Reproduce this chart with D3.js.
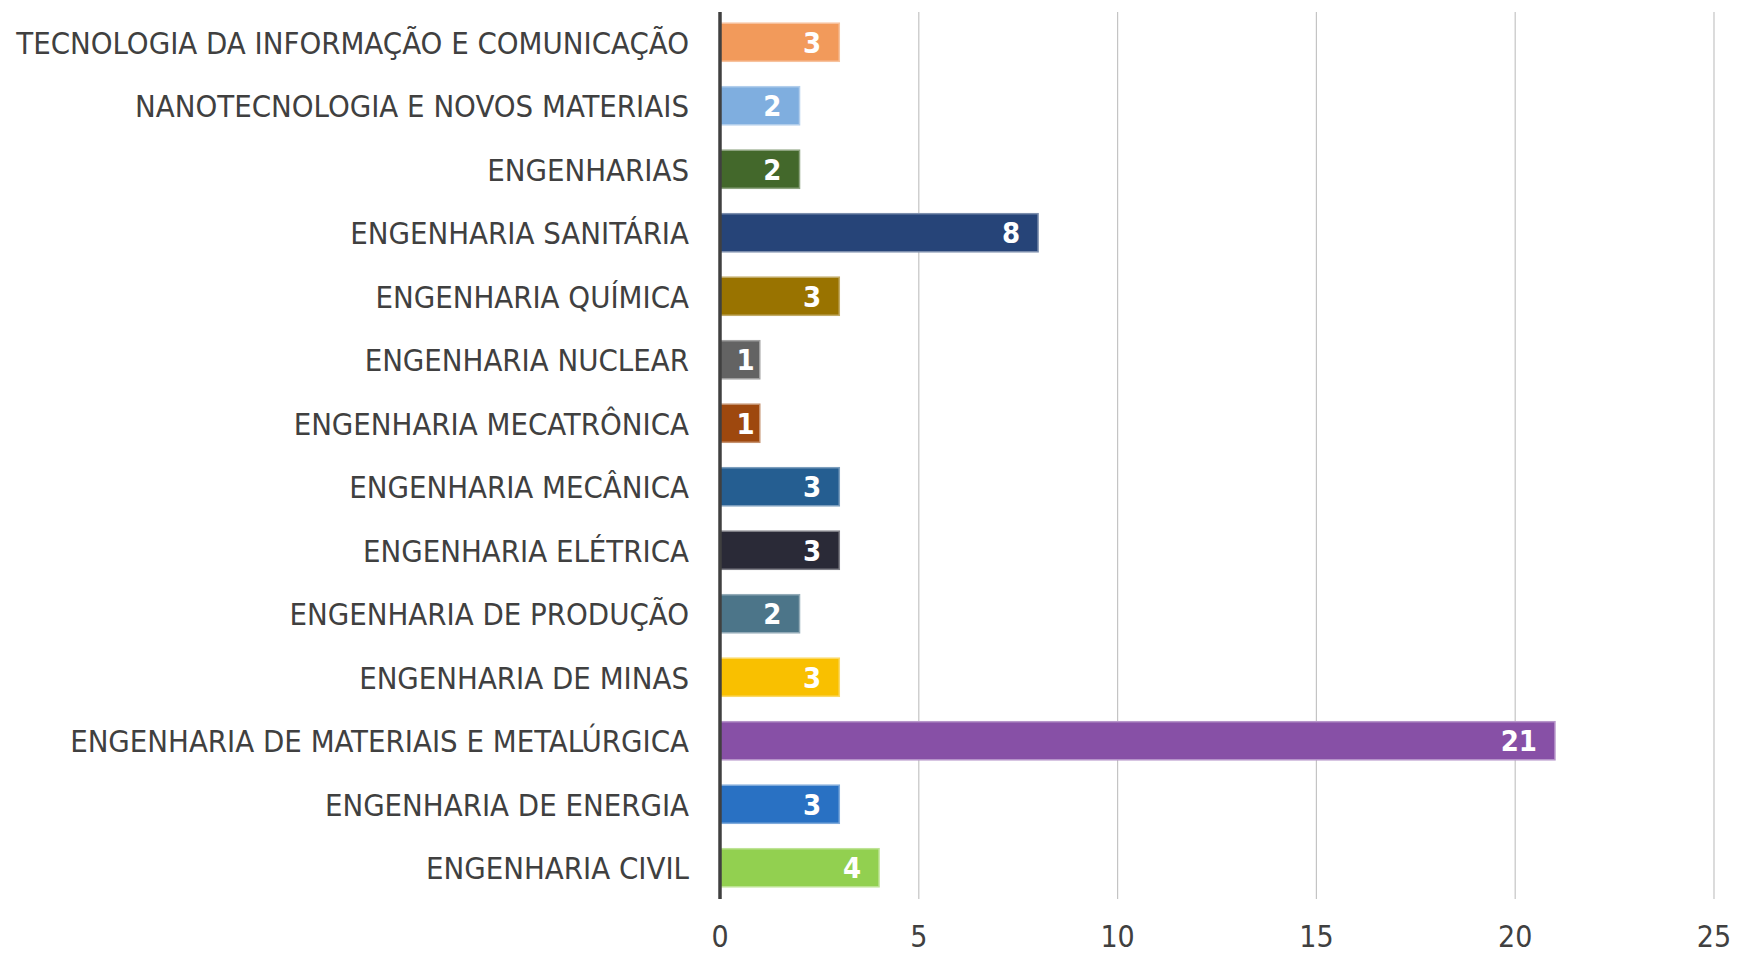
<!DOCTYPE html>
<html>
<head>
<meta charset="utf-8">
<script src="https://cdn.jsdelivr.net/npm/d3@7"></script>
<style>
  body { margin: 0; background: #fff; }
  svg { display: block; }
</style>
</head>
<body>
<script>
var w = 1738;
var h = 955;

var categories = [
    "TECNOLOGIA DA INFORMAÇÃO E COMUNICAÇÃO",
    "NANOTECNOLOGIA E NOVOS MATERIAIS",
    "ENGENHARIAS",
    "ENGENHARIA SANITÁRIA",
    "ENGENHARIA QUÍMICA",
    "ENGENHARIA NUCLEAR",
    "ENGENHARIA MECATRÔNICA",
    "ENGENHARIA MECÂNICA",
    "ENGENHARIA ELÉTRICA",
    "ENGENHARIA DE PRODUÇÃO",
    "ENGENHARIA DE MINAS",
    "ENGENHARIA DE MATERIAIS E METALÚRGICA",
    "ENGENHARIA DE ENERGIA",
    "ENGENHARIA CIVIL"
];
var values = [3, 2, 2, 8, 3, 1, 1, 3, 3, 2, 3, 21, 3, 4];
var colors = ["#F29A5B", "#7FAEDF", "#43682B", "#264478", "#997300", "#636363", "#9E480E",
              "#255E91", "#2A2A37", "#4C7589", "#F9C000", "#8750A6", "#2971C3", "#92D050"];
var xTicks = [0, 5, 10, 15, 20, 25];

var font = "'DejaVu Sans Condensed', 'DejaVu Sans', sans-serif";

var svg = d3.select("body")
            .append("svg")
                .attr("width", w)
                .attr("height", h);

var x = d3.scaleLinear().domain([0, 25]).range([720, 1714]);
var y = d3.scaleBand().domain(categories).range([10.5, 899.5])
            .paddingInner(0.4).paddingOuter(0.2);

// gridlines
svg.selectAll("line.grid")
    .data(xTicks.slice(1))
    .enter()
    .append("line")
        .attr("class", "grid")
        .attr("x1", function(d) {return x(d);})
        .attr("x2", function(d) {return x(d);})
        .attr("y1", 12)
        .attr("y2", 899)
        .attr("stroke", "#c4c4c4")
        .attr("stroke-width", 1.2);

// bars
svg.selectAll("rect.bar")
    .data(values)
    .enter()
    .append("rect")
        .attr("class", "bar")
        .attr("x", x(0))
        .attr("y", function(d, i) {return y(categories[i]);})
        .attr("width", function(d) {return x(d) - x(0);})
        .attr("height", y.bandwidth())
        .attr("fill", function(d, i) {return colors[i];})
        .attr("stroke", function(d, i) {return d3.interpolateRgb(colors[i], "#ffffff")(0.4);})
        .attr("stroke-width", 1.5);

// value labels (inside end; short bars get a smaller margin)
svg.selectAll("text.val")
    .data(values)
    .enter()
    .append("text")
    .text(function(d) {return d;})
        .attr("class", "val")
        .attr("text-anchor", "end")
        .attr("x", function(d) {return x(d) - ((x(d) - x(0)) < 50 ? 5 : 18);})
        .attr("y", function(d, i) {return y(categories[i]) + y.bandwidth() / 2 + 10.5;})
        .attr("font-family", font)
        .attr("font-weight", "bold")
        .attr("font-size", 29)
        .attr("fill", "#ffffff");

// category labels
svg.selectAll("text.cat")
    .data(categories)
    .enter()
    .append("text")
    .text(function(d) {return d;})
        .attr("class", "cat")
        .attr("text-anchor", "end")
        .attr("x", 689)
        .attr("y", function(d) {return y(d) + y.bandwidth() / 2 + 11.5;})
        .attr("font-family", font)
        .attr("font-size", 30.8)
        .attr("fill", "#404040");

// x tick labels
svg.selectAll("text.tick")
    .data(xTicks)
    .enter()
    .append("text")
    .text(function(d) {return d;})
        .attr("class", "tick")
        .attr("text-anchor", "middle")
        .attr("x", function(d) {return x(d);})
        .attr("y", 947)
        .attr("font-family", font)
        .attr("font-size", 30)
        .attr("fill", "#404040");

// vertical axis line
svg.append("line")
    .attr("x1", x(0))
    .attr("x2", x(0))
    .attr("y1", 12)
    .attr("y2", 899)
    .attr("stroke", "#404040")
    .attr("stroke-width", 3.5);
</script>
</body>
</html>
